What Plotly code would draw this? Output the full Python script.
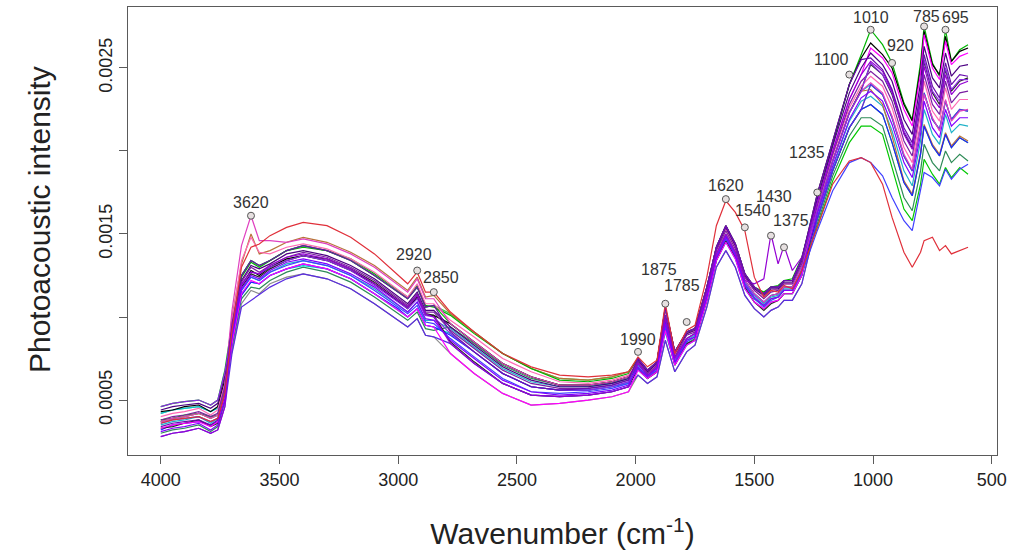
import plotly.graph_objects as go

# Wavenumber grid (cm^-1)
wavenumber = [4000, 3950, 3900, 3840, 3790, 3760, 3730, 3700, 3660, 3620, 3585, 3540, 3470, 3400, 3300, 3200,
              3100, 3000, 2960, 2920, 2885, 2850, 2780, 2680, 2560, 2440, 2320, 2200, 2100, 2030, 1990, 1950,
              1910, 1875, 1835, 1785, 1750, 1700, 1660, 1620, 1580, 1540, 1500, 1460, 1430, 1400, 1375, 1340,
              1300, 1235, 1170, 1100, 1050, 1010, 960, 920, 870, 835, 800, 785, 750, 720, 695, 670, 635, 600]

# Spectra, intensity in units of 1e-4
s_gray = [4.2,4.4,4.5,4.6,4.3,4.6,6.3,
          7.9,10.8,11.6,11.4,12.0,12.4,12.6,12.3,11.7,10.8,9.8,9.4,9.9,8.9,8.8,
          7.8,6.6,5.4,4.7,4.8,5.0,5.2,5.5,
          6.5,6.0,6.4,8.6,6.7,7.9,8.3,10.6,13.0,14.0,13.0,11.3,10.5,10.0,10.4,10.6,11.0,11.0,12.0,
          15.9,18.8,21.4,22.5,
          24.0,23.4,22.0,19.7,18.8,21.5,23.5,21.9,21.3,23.0,21.9,22.5,22.4]
s_green2 = [4.6,4.8,4.9,5.0,4.7,5.0,6.8,
            9.6,12.5,13.4,13.1,13.4,14.0,14.3,14.0,13.4,12.5,11.5,11.1,11.8,10.6,10.7,
            9.6,8.5,7.2,6.4,5.9,5.9,6.1,6.4,
            7.2,6.5,7.0,9.9,7.5,8.7,9.0,11.4,13.8,15.0,13.9,12.2,11.4,10.9,11.3,11.4,11.8,11.8,13.0,
            15.4,18.2,20.5,21.5,
            21.5,21.0,19.0,16.5,15.8,18.0,19.5,18.6,18.0,19.0,18.4,19.0,18.6]
s_darkgreen = [3.0,3.2,3.3,3.5,3.1,3.4,4.9,
               8.2,11.1,11.8,11.7,12.2,12.7,13.0,12.7,12.1,11.2,10.2,9.8,10.3,9.3,9.2,
               9.4,8.4,7.1,6.3,5.9,5.8,6.0,6.3,
               7.0,6.3,6.8,9.5,7.2,8.4,8.7,11.1,13.5,14.6,13.6,11.9,11.1,10.7,11.1,11.2,11.6,11.6,12.7,
               15.6,18.5,20.9,22.0,
               22.0,21.5,19.6,17.2,16.4,18.8,20.4,19.3,18.8,20.0,19.3,19.8,19.4]
s_green3 = [3.7,3.9,4.0,4.2,3.9,4.1,5.7,
            9.6,12.5,13.4,13.1,13.4,14.0,14.3,14.0,13.4,12.5,11.5,11.1,11.8,10.6,10.7,
            10.2,9.1,7.8,6.9,6.3,6.2,6.4,6.7,
            7.5,6.8,7.3,10.4,7.9,9.1,9.3,11.8,14.2,15.5,14.4,12.6,11.8,11.4,11.8,11.8,12.2,12.2,13.5,
            15.9,18.8,21.4,22.5,
            22.8,22.2,20.5,18.1,17.3,19.8,21.5,20.3,19.7,21.0,20.2,20.8,20.5]
s_cyan = [4.2,4.4,4.5,4.6,4.3,4.5,6.1,
          8.6,11.4,12.1,12.0,12.5,12.9,13.1,12.9,12.3,11.4,10.4,10.0,10.5,9.5,9.4,
          9.0,7.9,6.6,5.8,5.6,5.6,5.8,6.0,
          6.8,6.3,6.7,9.1,7.1,8.3,8.6,11.0,13.4,14.5,13.5,11.7,10.9,10.5,10.9,11.0,11.4,11.4,12.5,
          16.4,19.4,22.3,23.6,
          24.0,23.4,22.0,19.7,18.8,21.5,23.5,21.9,21.3,23.0,21.9,22.5,22.4]
s_cyan2 = [3.5,3.7,3.8,4.0,3.6,3.9,5.5,
           8.7,11.6,12.4,12.2,12.7,13.2,13.4,13.1,12.5,11.7,10.7,10.3,10.9,9.8,9.8,
           9.3,8.2,6.9,6.1,5.8,5.8,6.0,6.3,
           7.1,6.5,6.9,9.8,7.4,8.6,8.9,11.3,13.7,14.9,13.8,12.1,11.3,10.8,11.2,11.3,11.7,11.7,12.9,
           16.0,19.0,21.8,23.0,
           23.3,22.7,21.2,18.8,17.9,20.6,22.5,21.0,20.4,22.2,21.1,21.6,21.5]
s_brown = [3.7,3.9,4.0,4.2,3.9,4.1,5.7,
           10.0,13.2,15.0,13.8,14.0,14.5,14.8,14.5,13.9,13.1,12.0,11.6,12.4,11.2,11.3,
           10.2,9.1,7.8,6.9,6.3,6.2,6.4,6.7,
           7.5,6.8,7.3,10.5,7.9,9.1,9.3,11.8,14.2,15.5,14.4,12.6,11.8,11.4,11.8,11.8,12.2,12.2,13.5,
           16.4,19.4,22.3,23.6,
           23.7,22.8,20.9,18.2,17.4,19.9,21.6,20.4,19.8,21.1,20.3,20.9,20.6]
s_blue = [3.2,3.5,3.6,3.7,3.5,3.7,5.3,
          8.4,11.3,12.1,12.0,12.5,12.9,13.2,12.9,12.3,11.4,10.5,10.0,10.5,9.5,9.4,
          8.9,7.9,6.6,5.8,5.6,5.6,5.8,6.1,
          7.2,6.5,7.0,9.8,7.5,8.7,9.0,11.4,13.8,14.9,13.9,12.2,11.4,10.9,11.3,11.4,11.8,11.8,13.0,
          15.9,18.8,21.4,22.5,
          22.8,22.2,20.5,18.1,17.3,19.8,21.5,20.3,19.7,21.0,20.2,20.8,20.5]
s_green = [3.8,3.9,4.1,4.2,4.0,4.1,5.8,
           9.5,12.4,13.3,13.0,13.4,14.0,14.2,14.0,13.5,12.6,11.6,11.2,11.9,10.7,10.6,
           10.1,9.0,7.8,6.9,6.2,6.1,6.3,6.6,
           7.4,6.7,7.3,10.5,7.8,9.0,9.3,11.7,14.1,15.4,14.3,12.5,11.8,11.5,11.8,11.9,12.2,12.3,13.6,
           17.0,20.3,24.0,25.8,
           27.3,26.4,25.3,22.9,21.9,25.3,27.5,25.3,24.5,27.3,25.4,26.1,26.4]
s_black2 = [4.3,4.4,4.6,4.7,4.3,4.6,6.2,
            9.0,11.9,12.8,12.5,13.0,13.5,13.7,13.4,12.8,12.0,10.9,10.5,11.2,10.1,10.1,
            9.6,8.5,7.2,6.4,5.9,5.9,6.1,6.4,
            7.5,6.8,7.3,10.6,7.9,9.1,9.3,11.8,14.2,15.5,14.4,12.6,11.8,11.4,11.8,11.8,12.2,12.2,13.5,
            17.4,20.6,24.0,25.6,
            26.5,25.8,25.0,22.8,21.8,25.0,27.2,25.2,24.6,26.9,25.4,26.0,26.2]
s_black = [3.3,3.4,3.6,3.8,3.4,3.6,5.1,
           9.1,11.8,12.6,12.4,12.9,13.4,13.7,13.5,12.9,12.1,11.0,10.6,11.3,10.2,10.1,
           8.5,7.3,6.0,5.3,5.2,5.3,5.5,5.8,
           6.9,6.3,6.7,9.3,7.1,8.4,8.6,11.0,13.4,14.6,13.6,11.8,10.9,10.4,10.8,11.0,11.4,11.4,12.5,
           16.3,19.4,22.3,23.7,
           25.2,24.6,23.4,21.1,20.2,23.2,25.4,23.5,22.8,24.9,23.6,24.2,24.4]
s_blueviolet = [2.8,3.0,3.1,3.3,3.0,3.2,4.6,
                7.8,10.6,11.0,11.3,11.8,12.3,12.6,12.3,11.7,10.8,9.8,9.4,9.9,8.9,8.8,
                8.4,7.2,6.0,5.3,5.2,5.3,5.5,5.8,
                6.5,6.0,6.4,8.6,6.7,7.9,8.3,10.6,13.0,14.0,13.0,11.3,10.5,10.0,10.4,10.6,11.0,11.0,12.0,
                15.9,18.8,21.4,22.5,
                24.0,23.4,22.0,19.7,18.8,21.5,23.5,21.9,21.3,23.0,21.9,22.5,22.4]
s_bluelow = [3.6,3.8,3.9,4.0,3.7,3.9,5.4,
             8.6,11.6,12.4,12.2,12.7,13.1,13.4,13.1,12.5,11.6,10.6,10.2,10.7,9.7,9.6,
             8.7,7.6,6.3,5.5,5.4,5.5,5.7,6.0,
             6.9,6.4,6.8,9.4,7.2,8.5,8.8,11.2,13.6,14.7,13.7,11.9,11.1,10.6,11.0,11.2,11.6,11.6,12.6,
             15.2,17.6,19.3,19.6,
             19.3,18.5,17.2,15.8,15.2,17.6,18.7,18.4,17.9,18.9,18.3,18.9,19.2]
s_pink = [4.0,4.2,4.3,4.5,4.1,4.4,6.0,
          9.8,13.4,14.8,13.9,13.8,14.2,14.4,14.1,13.5,12.7,11.6,11.2,12.0,10.8,10.8,
          9.8,8.8,7.5,6.7,6.1,6.0,6.2,6.5,
          7.4,6.7,7.2,10.2,7.7,9.0,9.2,11.6,14.0,15.3,14.2,12.4,11.6,11.2,11.6,11.7,12.0,12.0,13.3,
          16.6,19.7,22.6,23.9,
          24.5,23.9,22.6,20.2,19.3,22.2,24.2,22.4,21.8,23.8,22.5,23.1,23.1]
s_magenta2 = [3.3,3.5,3.6,3.7,3.4,3.7,5.2,
              8.4,11.4,12.2,12.0,12.5,12.9,13.2,12.9,12.3,11.4,10.4,10.0,10.5,9.5,9.4,
              7.8,6.6,5.4,4.7,4.8,5.0,5.2,5.5,
              6.8,6.3,6.7,9.2,7.1,8.3,8.6,11.0,13.4,14.5,13.5,11.7,10.9,10.5,10.9,11.0,11.4,11.4,12.5,
              16.9,20.0,23.1,24.6,
              26.2,25.6,24.7,22.5,21.5,24.7,27.0,25.0,24.3,26.6,25.2,25.7,25.9]
s_magenta = [3.7,3.9,4.0,4.2,3.9,4.1,5.9,
             10.4,14.3,16.1,14.6,14.6,14.5,14.7,14.4,13.8,13.0,11.9,11.5,12.3,11.1,11.1,
             9.6,8.5,7.2,6.4,5.9,5.9,6.1,6.4,
             7.3,6.6,7.0,10.0,7.5,8.7,9.0,11.4,13.8,15.0,13.9,12.2,11.4,10.9,11.3,11.4,11.8,11.8,13.0,
             16.4,19.4,22.3,23.6,
             24.1,23.5,22.1,19.8,18.9,21.6,23.4,22.0,21.2,23.1,21.8,22.4,22.5]
s_indigo = [4.4,4.6,4.7,4.8,4.5,4.8,6.5,
            9.3,12.2,13.1,12.9,13.2,13.8,14.0,13.7,13.1,12.3,11.2,10.8,11.5,10.4,10.4,
            9.4,8.3,7.0,6.2,5.8,5.8,6.0,6.3,
            7.4,6.7,7.2,10.1,7.8,9.0,9.2,11.7,14.1,15.4,14.3,12.5,11.7,11.3,11.7,11.7,12.1,12.1,13.4,
            17.1,20.3,23.5,25.0,
            25.9,25.2,24.2,21.9,21.0,24.1,26.3,24.4,23.8,25.9,24.5,25.1,25.2]
s_purple4 = [3.8,4.0,4.1,4.3,4.0,4.2,5.8,
             9.2,12.1,13.0,12.7,13.1,13.6,13.9,13.6,13.0,12.2,11.1,10.7,11.4,10.3,10.3,
             9.2,8.1,6.8,6.0,5.7,5.7,5.9,6.2,
             7.3,6.6,7.1,10.1,7.6,8.9,9.1,11.6,14.0,15.2,14.1,12.4,11.6,11.1,11.5,11.6,12.0,12.0,13.2,
             16.7,19.8,22.8,24.2,
             24.8,24.2,23.0,20.6,19.7,22.6,24.6,22.8,22.2,24.2,22.9,23.5,23.6]
s_purple3 = [4.6,4.8,4.9,5.0,4.7,5.0,6.7,
             9.1,11.9,12.7,12.6,13.0,13.4,13.7,13.4,12.8,11.9,10.9,10.5,11.1,10.1,10.0,
             9.0,7.9,6.6,5.8,5.6,5.6,5.8,6.1,
             7.5,6.8,7.3,10.5,7.9,9.1,9.3,11.8,14.2,15.5,14.4,12.6,11.8,11.4,11.8,11.8,12.2,12.2,13.5,
             16.4,19.4,22.3,23.6,
             25.3,24.6,23.5,21.2,20.3,23.3,25.5,23.6,23.0,25.0,23.7,24.3,24.3]
s_purple = [2.8,3.0,3.1,3.3,3.0,3.2,4.6,
            9.1,12.0,12.7,12.6,13.1,13.6,13.8,13.5,12.9,12.0,11.0,10.6,11.3,10.2,10.0,
            8.4,7.2,6.0,5.3,5.2,5.3,5.5,5.8,
            7.2,6.5,7.0,9.9,7.5,8.7,9.0,11.4,13.8,15.0,13.9,12.2,12.0,12.3,15.0,13.2,14.3,12.8,13.6,
            16.9,20.0,23.1,24.6,
            25.4,24.8,23.6,21.0,20.1,23.0,25.1,23.2,22.6,24.6,23.4,24.0,24.2]
s_violet = [3.4,3.6,3.7,3.8,3.5,3.8,5.4,
            9.6,12.5,13.4,13.1,13.4,14.0,14.3,14.0,13.4,12.5,11.5,11.1,11.8,10.6,10.7,
            9.1,7.9,6.6,5.8,5.6,5.7,5.9,6.2,
            7.5,6.8,7.3,10.6,7.9,9.1,9.3,11.8,14.2,15.5,14.4,12.6,11.8,11.4,11.8,11.8,12.2,12.2,13.5,
            17.4,20.6,24.0,25.5,
            25.6,24.9,23.7,21.4,20.5,23.6,25.8,23.9,23.2,25.3,24.0,24.6,24.5]
s_violet2 = [3.1,3.3,3.4,3.6,3.2,3.5,5.0,
             8.8,11.7,12.5,12.3,12.8,13.3,13.5,13.2,12.6,11.8,10.7,10.3,10.9,9.9,9.8,
             8.6,7.5,6.2,5.5,5.3,5.4,5.6,5.9,
             7.0,6.4,6.9,9.6,7.3,8.6,8.8,11.2,13.6,14.8,13.7,12.0,11.2,10.7,11.1,11.2,11.6,11.6,12.8,
             16.2,19.1,21.9,23.2,
             23.6,23.0,21.6,19.3,18.4,21.0,23.0,21.4,20.8,22.5,21.5,22.0,22.0]
s_red = [3.6,3.8,3.9,4.0,3.7,3.9,5.4,
         9.2,13.0,14.2,14.4,14.9,15.4,15.7,15.5,14.8,13.8,12.5,12.0,12.7,11.5,11.5,
         10.3,9.1,7.8,7.0,6.5,6.4,6.5,6.7,
         7.6,7.0,7.4,10.8,7.8,9.2,9.5,12.4,15.5,17.0,16.3,15.2,12.4,11.2,11.6,11.5,11.9,11.7,12.8,
         15.4,18.0,19.4,19.6,
         19.3,18.0,16.0,13.9,13.0,13.9,14.6,14.8,14.0,14.3,13.8,14.0,14.2]

# Labelled peaks
peak_wavenumber = [3620, 2920, 2850, 1990, 1875, 1785, 1620, 1540, 1430, 1375, 1235, 1100, 1010, 920, 785, 695]
peak_intensity = [16.1, 12.8, 11.5, 7.9, 10.8, 9.7, 17.1, 15.4, 14.9, 14.2, 17.5, 24.6, 27.3, 25.3, 27.5, 27.3]
peak_labels = [str(p) for p in peak_wavenumber]

# Axis ticks
y_labeled_ticks = [0.0005, 0.0015, 0.0025]
y_unlabeled_ticks = [0.0010, 0.0020]
x_ticks = [4000, 3500, 3000, 2500, 2000, 1500, 1000, 500]

SCALE = 1e-4
series = [
    (s_gray, "#8c8c8c"), (s_green2, "#00c800"), (s_darkgreen, "#2e8b57"), (s_green3, "#2ecc40"),
    (s_cyan, "#00cdcd"), (s_cyan2, "#20b2c8"), (s_brown, "#b8733a"), (s_blue, "#1f1fff"),
    (s_green, "#00b400"), (s_black2, "#000000"), (s_black, "#262626"), (s_blueviolet, "#5a2be2"),
    (s_bluelow, "#4040ff"), (s_pink, "#ff69b4"), (s_magenta2, "#ff00ff"), (s_magenta, "#e040c0"),
    (s_indigo, "#4b0082"), (s_purple4, "#7b1fa2"), (s_purple3, "#8a2be2"), (s_purple, "#9400d3"),
    (s_violet, "#6a0dad"), (s_violet2, "#8000ff"), (s_red, "#e0303a"),
]

FONT = "Liberation Sans, Arial, sans-serif"

fig = go.Figure()
for vals, col in series:
    fig.add_trace(go.Scatter(x=wavenumber, y=[v * SCALE for v in vals], mode="lines",
                             line=dict(color=col, width=1.2), showlegend=False, hoverinfo="skip"))

fig.add_trace(go.Scatter(x=peak_wavenumber, y=[v * SCALE for v in peak_intensity], mode="markers",
                         marker=dict(symbol="circle", size=7, color="#e6e0e0",
                                     line=dict(color="#555555", width=1)),
                         showlegend=False, hoverinfo="skip"))

label_shift = {3620: (0, 13), 2920: (-3, 16), 2850: (7, 15), 1990: (0, 12), 1875: (-6, 34),
               1785: (-5, 36), 1620: (0, 14), 1540: (8, 17), 1430: (3, 39), 1375: (7, 27),
               1235: (-10, 40), 1100: (-18, 15), 1010: (0, 12), 920: (8, 17), 785: (2, 10), 695: (10, 12)}

for wn, val, lab in zip(peak_wavenumber, peak_intensity, peak_labels):
    dx, dy = label_shift[wn]
    fig.add_annotation(x=wn, y=val * SCALE, text=lab, showarrow=False, xshift=dx, yshift=dy,
                       font=dict(family=FONT, size=16, color="#333333"))

# y-axis title placed as a rotated annotation
fig.add_annotation(text="Photoacoustic intensity", xref="paper", yref="paper", x=-0.101, y=0.525,
                   xanchor="center", yanchor="middle", textangle=-90, showarrow=False,
                   font=dict(family=FONT, size=30, color="#222222"))

axis_common = dict(showline=True, mirror=True, linecolor="#5a5a5a", linewidth=1.3, ticks="outside",
                   ticklen=8, tickwidth=1.2, tickcolor="#5a5a5a", showgrid=False, zeroline=False,
                   tickfont=dict(family=FONT, size=18, color="#222222"))

fig.update_layout(
    width=1030, height=552,
    margin=dict(l=128, r=33, t=7, b=97),
    paper_bgcolor="white", plot_bgcolor="white",
    xaxis=dict(range=[4138, 478], tickvals=x_ticks, ticktext=[str(t) for t in x_ticks],
               title=dict(text="Wavenumber (cm<sup>-1</sup>)", standoff=34,
                          font=dict(family=FONT, size=30, color="#222222")),
               automargin=False, **axis_common),
    yaxis=dict(range=[0.000169, 0.002867], tickvals=y_labeled_ticks,
               ticktext=[f"{t:.4f}" for t in y_labeled_ticks], tickangle=-90,
               minor=dict(tickvals=y_unlabeled_ticks, ticks="outside", ticklen=8, tickwidth=1.2,
                          tickcolor="#5a5a5a", showgrid=False),
               automargin=False, **axis_common),
)

fig.write_html("out.html")
